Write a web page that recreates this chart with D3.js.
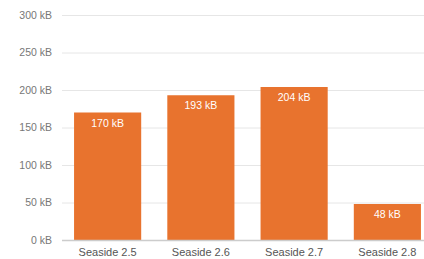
<!DOCTYPE html>
<html>
<head>
<meta charset="utf-8">
<script src="https://cdn.jsdelivr.net/npm/d3@7"></script>
<style>
  body { margin: 0; background: #fff; }
  svg { display: block; font-family: "Liberation Sans", Arial, sans-serif; }
</style>
</head>
<body>
<svg id="chart" width="424" height="259"></svg>
<script>
// Chart data
const categories = ["Seaside 2.5", "Seaside 2.6", "Seaside 2.7", "Seaside 2.8"];
const sizes = [170, 193, 204, 48];
const yTicks = [0, 50, 100, 150, 200, 250, 300];

const svg = d3.select("#chart");

// Scales
const x = d3.scaleBand()
  .domain(categories)
  .range([61, 434])
  .paddingInner(0.28)
  .paddingOuter(0.14);
const y = d3.scaleLinear()
  .domain([0, 300])
  .range([240, 15]);

// Gridlines
svg.append("g")
  .selectAll("line")
  .data(yTicks.filter(d => d > 0))
  .join("line")
    .attr("x1", 62)
    .attr("x2", 424)
    .attr("y1", d => y(d) + 0.5)
    .attr("y2", d => y(d) + 0.5)
    .attr("stroke", "#e6e6e6")
    .attr("stroke-width", 1);

// Y axis labels
svg.append("g")
  .selectAll("text")
  .data(yTicks)
  .join("text")
    .attr("x", 52)
    .attr("y", d => y(d))
    .attr("dy", "0.35em")
    .attr("text-anchor", "end")
    .attr("font-size", 10.5)
    .attr("fill", "#777")
    .text(d => d + " kB");

// Bars
svg.append("g")
  .selectAll("rect")
  .data(sizes)
  .join("rect")
    .attr("x", (d, i) => x(categories[i]))
    .attr("y", d => y(d))
    .attr("width", x.bandwidth())
    .attr("height", d => y(0) - y(d))
    .attr("fill", "#e8732e");

// Value labels
svg.append("g")
  .selectAll("text")
  .data(sizes)
  .join("text")
    .attr("x", (d, i) => x(categories[i]) + x.bandwidth() / 2)
    .attr("y", d => y(d) + 14)
    .attr("text-anchor", "middle")
    .attr("font-size", 10.5)
    .attr("fill", "#fff")
    .text(d => d + " kB");

// Baseline
svg.append("line")
  .attr("x1", 62)
  .attr("x2", 424)
  .attr("y1", y(0) + 0.5)
  .attr("y2", y(0) + 0.5)
  .attr("stroke", "#cccccc")
  .attr("stroke-width", 1.5);

// Category labels
svg.append("g")
  .selectAll("text")
  .data(categories)
  .join("text")
    .attr("x", d => x(d) + x.bandwidth() / 2)
    .attr("y", 256)
    .attr("text-anchor", "middle")
    .attr("font-size", 11)
    .attr("fill", "#555")
    .text(d => d);
</script>
</body>
</html>
